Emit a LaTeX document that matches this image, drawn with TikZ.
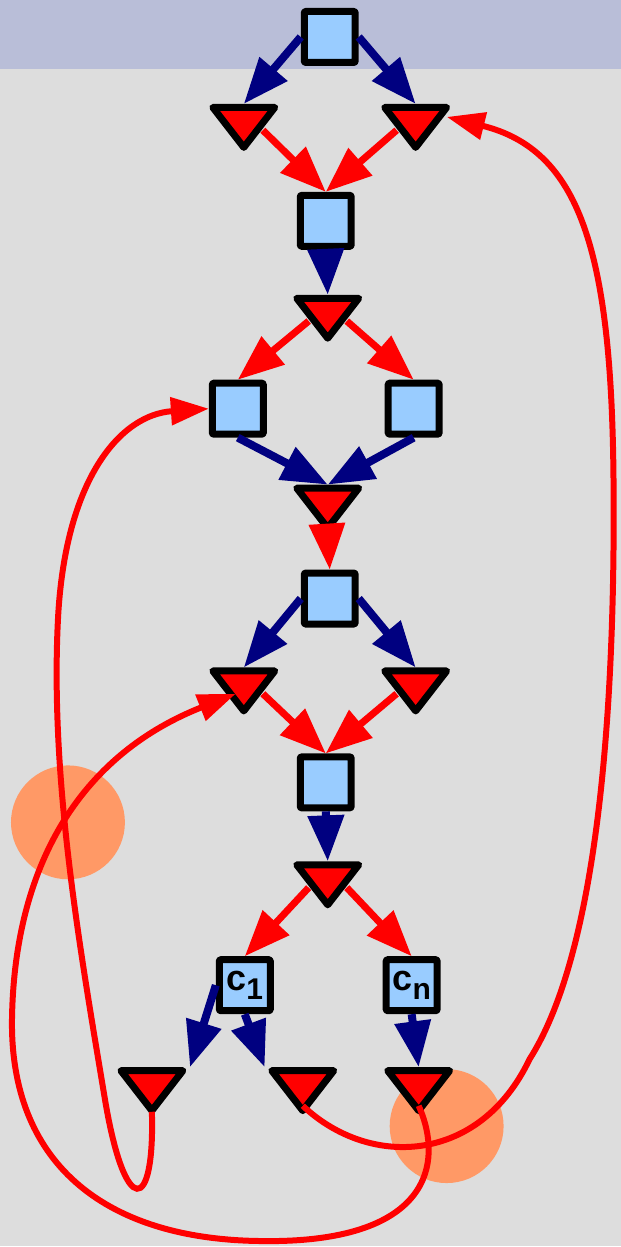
\documentclass[tikz,border=0pt]{standalone}
\usepackage{fontspec}
\setmainfont{Liberation Sans}
\usetikzlibrary{shapes.geometric,arrows.meta}

\definecolor{fondo}{HTML}{DDDDDD}
\definecolor{franja}{HTML}{B9BED8}
\definecolor{celeste}{HTML}{99CCFF}
\definecolor{azul}{HTML}{000080}
\definecolor{naranja}{HTML}{FF9966}

\begin{document}
\begin{tikzpicture}[x=1pt, y=-1pt]
    % Estilos de lugares, transiciones y arcos
    \tikzset{
        lugar/.style={
            draw, rectangle, line width=7pt, line join=round, rounded corners=1pt, fill=celeste,
            minimum size=51pt, inner sep=0pt, font=\bfseries\fontsize{36}{36}\selectfont
        },
        trans/.style={
            draw, isosceles triangle, isosceles triangle stretches, shape border rotate=270,
            line width=7pt, line join=round, fill=red, minimum width=62pt, minimum height=40pt,
            inner sep=0pt, anchor=lower side
        },
        arcoazul/.style={azul, line width=8pt, -{Triangle[length=46pt, width=35pt]}},
        arcorojo/.style={red, line width=7pt, -{Triangle[length=46pt, width=35pt]}},
        retorno/.style={red, line width=6pt, -{Triangle[length=38pt, width=27pt]}}
    }

    % Fondo y marcas
    \fill[fondo] (0,0) rectangle (621,1247);
    \fill[franja] (0,0) rectangle (621,69);
    \fill[naranja] (68,823) circle (57);
    \fill[naranja] (447,1127) circle (57);

    % Lugares y transiciones
    \node[lugar] (sq1) at (330,37) {};
    \node[trans] (tri1) at (244,104) {};
    \node[trans] (tri2) at (416,104) {};
    \node[lugar] (sq2) at (326,221) {};
    \node[trans] (tri3) at (328,295) {};
    \node[lugar] (sq3) at (238,409) {};
    \node[lugar] (sq4) at (414,409) {};
    \node[trans] (tri4) at (328,485) {};
    \node[lugar] (sq5) at (330,599) {};
    \node[trans] (tri5) at (244,668) {};
    \node[trans] (tri6) at (416,668) {};
    \node[lugar] (sq6) at (326,783) {};
    \node[trans] (tri7) at (328,862) {};
    \node[lugar] (c1) at (245,986) {c\raisebox{-9pt}{\fontsize{30}{30}\selectfont 1}};
    \node[lugar] (cn) at (412,986) {c\raisebox{-9pt}{\fontsize{30}{30}\selectfont n}};
    \node[trans] (fin1) at (152,1068) {};
    \node[trans] (fin2) at (303,1068) {};
    \node[trans] (fin3) at (419,1068) {};

    % Arcos
    \draw[arcoazul] (sq1.west) -- (tri1.lower side);
    \draw[arcoazul] (sq1.east) -- (tri2.lower side);
    \draw[arcorojo] (tri1.left side) -- (sq2.north);
    \draw[arcorojo] (tri2.right side) -- (sq2.north);
    \draw[arcoazul] (sq2.south) -- (tri3.lower side);
    \draw[arcorojo] (tri3.right side) -- (sq3.north);
    \draw[arcorojo] (tri3.left side) -- (sq4.north);
    \draw[arcoazul] (sq3.south) -- (tri4.lower side);
    \draw[arcoazul] (sq4.south) -- (tri4.lower side);
    \draw[arcorojo] (tri4.apex) -- (sq5.north);
    \draw[arcoazul] (sq5.west) -- (tri5.lower side);
    \draw[arcoazul] (sq5.east) -- (tri6.lower side);
    \draw[arcorojo] (tri5.left side) -- (sq6.north);
    \draw[arcorojo] (tri6.right side) -- (sq6.north);
    \draw[arcoazul] (sq6.south) -- (tri7.lower side);
    \draw[arcorojo] (tri7.right side) -- (c1.north);
    \draw[arcorojo] (tri7.left side) -- (cn.north);
    \draw[arcoazul] (c1.west) -- (fin1.left corner);
    \draw[arcoazul] (c1.south) -- (fin2.right corner);
    \draw[arcoazul] (cn.south) -- (fin3.lower side);

    % Arcos de retorno
    \draw[retorno] ([yshift=14pt]fin2.apex) .. controls (370,1170) and (480,1165) .. (530,1060)
        .. controls (600,950) and (616,700) .. (614,480)
        .. controls (612,250) and (580,150) .. ([xshift=-7pt, yshift=-13pt]tri2.left corner);
    \draw[retorno] ([yshift=8pt]fin1.apex) .. controls (155,1215) and (125,1220) .. (105,1100)
        .. controls (80,950) and (50,780) .. (58,620)
        .. controls (65,480) and (120,415) .. (sq3.west);
    \draw[retorno] ([yshift=14pt]fin3.apex) .. controls (445,1165) and (430,1245) .. (260,1242)
        .. controls (100,1240) and (10,1160) .. (12,1020)
        .. controls (14,880) and (70,760) .. ([xshift=11pt]tri5.right side);
\end{tikzpicture}
\end{document}
